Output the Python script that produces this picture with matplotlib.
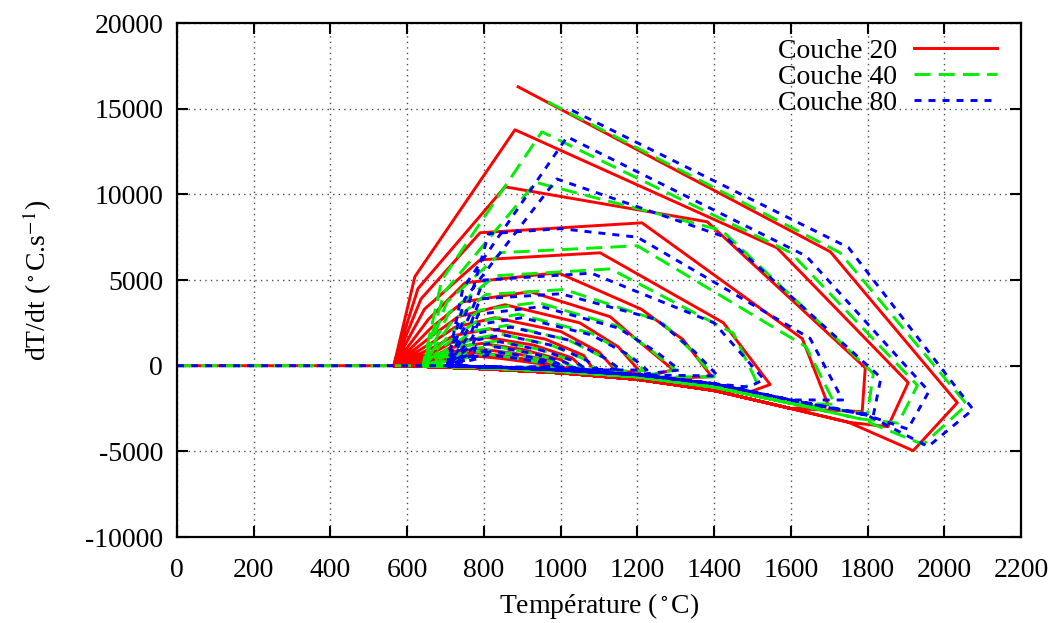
import numpy as np
import matplotlib.pyplot as plt

plt.rcParams['font.family'] = ['Liberation Serif', 'DejaVu Serif']
plt.rcParams['mathtext.fontset'] = 'stix'
plt.rcParams['axes.unicode_minus'] = False

# Flat start (°C) before the first pass, one per layer
flat20 = [0, 565]
flat40 = [0, 641]
flat80 = [0, 704]

# Thermal loops: (T in °C, dT/dt in °C/s)
loops20 = [
    [(889, 16280), (1703, 6650), (2034, -2160), (1919, -4960)],
    [(565, 0), (620, 5200), (881, 13770), (1564, 6880), (1906, -990), (1853, -3560)],
    [(565, 0), (628, 4500), (855, 10440), (1382, 8400), (1794, -120), (1786, -2680)],
    [(565, 0), (636, 3900), (790, 7760), (1212, 8340), (1630, 1575), (1697, -2275)],
    [(565, 0), (645, 3300), (790, 6180), (1103, 6590), (1424, 2510), (1546, -1100), (1494, -1520)],
    [(565, 0), (655, 2700), (751, 4840), (993, 5430), (1210, 3300), (1319, 1520), (1394, -640)],
    [(565, 0), (662, 2200), (746, 3730), (920, 4320), (1129, 2860), (1189, 1690), (1293, -230)],
    [(565, 0), (668, 1800), (733, 2860), (855, 3560), (1050, 2500), (1150, 1100), (1207, -350)],
    [(565, 0), (672, 1450), (725, 2250), (829, 2800), (1000, 2000), (1100, 800), (1142, -250)],
    [(565, 0), (676, 1150), (720, 1750), (816, 2150), (960, 1550), (1060, 600), (1085, -200)],
    [(565, 0), (680, 900), (715, 1350), (808, 1650), (930, 1200), (1030, 450), (1058, -150)],
    [(565, 0), (683, 700), (712, 1050), (795, 1300), (900, 950), (1000, 350), (1032, -120)],
    [(565, 0), (686, 550), (710, 800), (780, 1000), (880, 720), (980, 250), (1006, -100)],
    [(565, 0), (690, 420), (708, 620), (770, 780), (860, 560), (960, 180), (985, -80)],
    [(565, 0), (692, 320), (760, 600), (845, 420), (945, 120), (967, -60)],
]
loops40 = [
    [(967, 15400), (1728, 6600), (2059, -2270), (1945, -4600)],
    [(641, 0), (690, 5000), (951, 13650), (1600, 6600), (1930, -1150), (1880, -3350)],
    [(641, 0), (697, 4300), (935, 10700), (1420, 7900), (1815, -450), (1800, -2800)],
    [(641, 0), (703, 3700), (845, 6600), (1200, 7000), (1640, 1100), (1715, -2250)],
    [(641, 0), (709, 3100), (830, 5250), (1130, 5650), (1450, 1900), (1510, -900), (1470, -1350)],
    [(641, 0), (714, 2500), (805, 4150), (1010, 4450), (1260, 2600), (1340, 900), (1400, -650)],
    [(641, 0), (718, 2000), (790, 3250), (940, 3700), (1150, 2300), (1230, 1000), (1300, -250)],
    [(641, 0), (722, 1650), (778, 2550), (890, 3000), (1080, 1900), (1170, 700), (1220, -300)],
    [(641, 0), (726, 1300), (770, 2000), (860, 2350), (1020, 1500), (1110, 500), (1150, -220)],
    [(641, 0), (729, 1050), (765, 1550), (845, 1850), (975, 1200), (1060, 400), (1090, -180)],
    [(641, 0), (731, 830), (760, 1200), (835, 1450), (945, 950), (1030, 300), (1060, -140)],
    [(641, 0), (733, 650), (757, 950), (825, 1150), (920, 750), (1005, 230), (1035, -110)],
    [(641, 0), (735, 500), (755, 720), (815, 900), (900, 600), (985, 170), (1010, -90)],
    [(641, 0), (737, 380), (805, 700), (880, 450), (965, 120), (990, -70)],
]
loops80 = [
    [(1030, 14900), (1750, 6900), (2075, -2550), (1958, -4720)],
    [(704, 0), (745, 4500), (1017, 13360), (1640, 6400), (1960, -1500), (1905, -3700)],
    [(704, 0), (750, 3900), (990, 10900), (1430, 7500), (1835, -700), (1815, -2900)],
    [(704, 0), (758, 3400), (812, 7700), (1000, 8000), (1200, 7500), (1650, 1600), (1735, -2000)],
    [(704, 0), (762, 2900), (800, 5000), (1080, 5400), (1400, 2500), (1530, -800), (1490, -1250)],
    [(704, 0), (765, 2400), (790, 3900), (1000, 4200), (1250, 2700), (1350, 800), (1410, -600)],
    [(704, 0), (768, 2000), (785, 3000), (950, 3450), (1150, 2200), (1250, 800), (1310, -250)],
    [(704, 0), (770, 1650), (783, 2400), (900, 2800), (1080, 1800), (1180, 600), (1225, -250)],
    [(704, 0), (772, 1300), (782, 1900), (870, 2250), (1030, 1450), (1115, 450), (1155, -200)],
    [(704, 0), (774, 1050), (781, 1500), (850, 1800), (985, 1150), (1065, 350), (1095, -160)],
    [(704, 0), (775, 830), (780, 1150), (840, 1400), (950, 900), (1035, 280), (1062, -130)],
    [(704, 0), (776, 650), (830, 1100), (925, 720), (1010, 220), (1038, -100)],
    [(704, 0), (777, 500), (820, 850), (905, 570), (990, 160), (1012, -80)],
    [(704, 0), (778, 380), (812, 650), (885, 430), (970, 110), (992, -60)],
]

# Common cooling branch of each layer
env20_T = [1750, 1600, 1400, 1200, 1000, 800, 650, 565]
env20_R = [-3300, -2500, -1450, -800, -420, -180, -50, 0]
env40_T = [1780, 1600, 1400, 1200, 1000, 800, 700, 641]
env40_R = [-3100, -2200, -1250, -650, -330, -120, -40, 0]
env80_T = [1800, 1600, 1400, 1200, 1000, 850, 750, 704]
env80_R = [-2900, -2000, -1050, -530, -250, -100, -30, 0]

labels = ['Couche 20', 'Couche 40', 'Couche 80']
colors = ['#ff0000', '#00ee00', '#0000ff']


def build(flat, loops, env_T, env_R):
    T = [flat[0], flat[1], np.nan]
    R = [0, 0, np.nan]
    for loop in loops:
        for t, r in loop:
            T.append(t)
            R.append(r)
        last = loop[-1][0]
        for t, r in zip(env_T, env_R):
            if t < last - 40:
                T.append(t)
                R.append(r)
    return T, R


series = [build(flat20, loops20, env20_T, env20_R),
          build(flat40, loops40, env40_T, env40_R),
          build(flat80, loops80, env80_T, env80_R)]
styles = [dict(linestyle='-'),
          dict(linestyle=(0, (5.5, 2.8))),
          dict(linestyle=(0, (2.4, 2.4)))]

fig = plt.figure(figsize=(10.62, 6.23), dpi=100)
ax = fig.add_axes([0.1667, 0.138, 0.7947, 0.825])

for (T, R), lab, c, st in zip(series, labels, colors, styles):
    ax.plot(T, R, color=c, lw=2.1, label=lab, **st)

ax.set_xlim(0, 2200)
ax.set_ylim(-10000, 20000)
ax.set_xticks(np.arange(0, 2201, 200))
ax.set_yticks(np.arange(-10000, 20001, 5000))
ax.grid(True, color='0.3', linestyle=(0, (1, 3)), lw=1.0)
ax.tick_params(direction='in', length=8, width=1.5, top=True, right=True,
               labelsize=20)
ax.tick_params(axis='x', pad=15)
ax.tick_params(axis='y', pad=10)
for s in ax.spines.values():
    s.set_linewidth(1.6)

ax.set_xlabel('Température ($^\\circ$C)', fontsize=20, labelpad=6)
ax.set_ylabel('dT/dt ($^\\circ$C.s$^{-1}$)', fontsize=20, labelpad=22)

ax.legend(loc='upper right', bbox_to_anchor=(0.995, 1.008), frameon=False,
          markerfirst=False, fontsize=20, handlelength=3.0, handletextpad=0.6,
          labelspacing=0.02, borderaxespad=0.3)

fig.savefig('out.png', dpi=100)
